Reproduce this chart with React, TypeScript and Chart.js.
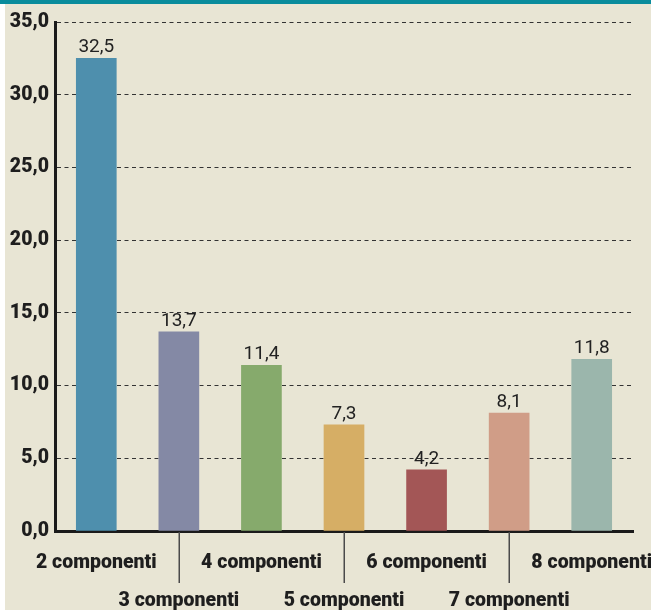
import React, { useEffect, useRef } from "react";
import { Chart, registerables } from "chart.js";

Chart.register(...registerables);

const categories = [
  "2 componenti",
  "3 componenti",
  "4 componenti",
  "5 componenti",
  "6 componenti",
  "7 componenti",
  "8 componenti",
];
const values = [32.5, 13.7, 11.4, 7.3, 4.2, 8.1, 11.8];
const barColors = [
  "#4e8fad",
  "#8489a5",
  "#86aa6c",
  "#d6ae65",
  "#a35656",
  "#d09d87",
  "#9bb6ac",
];
const yMin = 0;
const yMax = 35;
const yStep = 5;

const FONT = 'Roboto, "DejaVu Sans Condensed", sans-serif';
const fmt = (v: number) => v.toFixed(1).replace(".", ",");

const valueLabels = {
  id: "valueLabels",
  afterDatasetsDraw(chart: any) {
    const { ctx } = chart;
    const meta = chart.getDatasetMeta(0);
    ctx.save();
    ctx.font = `normal 19px ${FONT}`;
    ctx.fillStyle = "#222222";
    ctx.textAlign = "center";
    ctx.textBaseline = "alphabetic";
    meta.data.forEach((bar: any, i: number) => {
      ctx.fillText(fmt(values[i]), bar.x, bar.y - 6);
    });
    ctx.restore();
  },
};

const staggerTicks = {
  id: "staggerTicks",
  afterDraw(chart: any) {
    const { ctx } = chart;
    const xs = chart.scales.x;
    const bottom = chart.chartArea.bottom;
    ctx.save();
    ctx.strokeStyle = "#4a4a4a";
    ctx.lineWidth = 1.5;
    categories.forEach((_, i) => {
      if (i % 2 === 1) {
        const x = Math.round(xs.getPixelForValue(i)) + 0.25;
        ctx.beginPath();
        ctx.moveTo(x, bottom + 1);
        ctx.lineTo(x, bottom + 52);
        ctx.stroke();
      }
    });
    ctx.restore();
  },
};

export default function App() {
  const ref = useRef<HTMLCanvasElement>(null);
  useEffect(() => {
    if (!ref.current) return;
    const chart = new Chart(ref.current, {
      type: "bar",
      data: {
        labels: categories,
        datasets: [
          {
            data: values,
            backgroundColor: barColors,
            borderWidth: 0,
            barThickness: 40,
          },
        ],
      },
      options: {
        animation: false,
        responsive: false,
        maintainAspectRatio: false,
        layout: { padding: { top: 22, right: 18, bottom: 0, left: 0 } },
        plugins: {
          legend: { display: false },
          tooltip: { enabled: false },
        },
        scales: {
          x: {
            grid: { display: false, drawTicks: false },
            border: { display: true, color: "#1a1a1a", width: 3 },
            ticks: {
              autoSkip: false,
              maxRotation: 0,
              padding: 13,
              color: "#1e1e1e",
              font: { family: FONT, size: 19.5, weight: "900", lineHeight: 1.95 },
              callback: (_v: any, i: number) =>
                i % 2 === 1 ? ["", categories[i]] : categories[i],
            },
            afterFit: (s: any) => {
              s.height = 79;
              s.paddingLeft = 0;
              s.paddingRight = 0;
            },
          },
          y: {
            min: yMin,
            max: yMax,
            ticks: {
              stepSize: yStep,
              padding: 6,
              color: "#1e1e1e",
              font: { family: FONT, size: 19.5, weight: "900" },
              callback: (v: any) => fmt(Number(v)),
            },
            grid: {
              drawTicks: false,
              color: (c: any) => (c.tick && c.tick.value === 0 ? "rgba(0,0,0,0)" : "#333333"),
              lineWidth: 1,
            },
            border: { display: true, color: "#1a1a1a", width: 3, dash: [4, 3.5] },
            afterFit: (s: any) => {
              s.width = 55;
            },
          },
        },
      },
      plugins: [valueLabels, staggerTicks],
    });
    return () => chart.destroy();
  }, []);

  return (
    <div
      style={{
        position: "absolute",
        left: 0,
        top: 0,
        width: 651,
        height: 610,
        background: "#ffffff",
        overflow: "hidden",
      }}
    >
      <div
        style={{
          position: "absolute",
          left: 5,
          top: 0,
          width: 646,
          height: 610,
          background: "#e8e5d4",
        }}
      />
      <div
        style={{
          position: "absolute",
          left: 0,
          top: 0,
          width: 651,
          height: 4,
          background: "#098c9c",
        }}
      />
      <canvas
        ref={ref}
        width={651}
        height={610}
        style={{ position: "absolute", left: 0, top: 0, width: 651, height: 610 }}
      />
    </div>
  );
}
